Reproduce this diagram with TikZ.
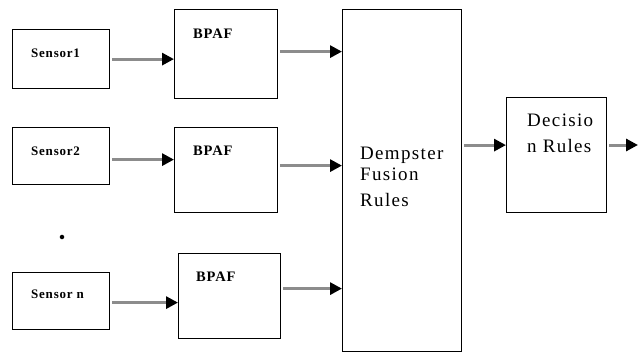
\documentclass[tikz,border=0pt]{standalone}
\usepackage{fontspec}
\setmainfont{Liberation Serif}
\usetikzlibrary{positioning,arrows.meta}

\begin{document}
\begin{tikzpicture}[x=1pt,y=-1pt,
		blk/.style={
			draw,
			line width=1.2pt,
			inner sep=0pt,
			anchor=north west
		},
		flow/.style={draw=gray!90, line width=3pt, shorten <=2pt,
			-{Triangle[length=12pt,width=12pt,black]}},
		tag/.style={anchor=base west, inner sep=0pt,
			font=\bfseries\fontsize{13}{15}\selectfont\addfontfeature{LetterSpace=6}},
		head/.style={tag, font=\bfseries\fontsize{14.5}{16}\selectfont\addfontfeature{LetterSpace=6}},
		big/.style={anchor=base west, inner sep=0pt,
			font=\fontsize{19}{22}\selectfont\addfontfeature{LetterSpace=7}}]
		\useasboundingbox (0,0) rectangle (638,353);
		
		\node[blk, minimum width=97pt, minimum height=59pt] (s1) at (12,29) {};
		\node[blk, minimum width=97pt, minimum height=57pt] (s2) at (12,127) {};
		\node[blk, minimum width=97pt, minimum height=57pt] (sn) at (12,272) {};
		\node[circle, fill, inner sep=1.6pt] (dots) at (62,237) {};
		
		\node[blk, minimum width=103pt, minimum height=89pt] (b1) at (174,9) {};
		\node[blk, minimum width=103pt, minimum height=85pt] (b2) at (174,127) {};
		\node[blk, minimum width=102pt, minimum height=85pt] (bn) at (178,253) {};
		
		\node[blk, minimum width=119pt, minimum height=342pt] (dfr) at (342,9) {};
		\node[blk, minimum width=100pt, minimum height=115pt] (dr) at (506,97) {};
		
		\node[tag] (t1) at (31,58) {Sensor1};
		\node[tag] (t2) at (31,156) {Sensor2};
		\node[tag] (tn) at (31,298) {Sensor n};
		\node[head] (p1) at (193,39) {BPAF};
		\node[head] (p2) at (193,155) {BPAF};
		\node[head] (pn) at (196,281.5) {BPAF};
		\node[big] (f1) at (360,159) {Dempster};
		\node[big] (f2) at (360,180) {Fusion};
		\node[big] (f3) at (360,206) {Rules};
		\node[big] (d1) at (527,127) {Decisio};
		\node[big] (d2) at (527,153) {n Rules};
		
		\draw[flow] (s1.east) -- (s1.east -| b1.west);
		\draw[flow] ([yshift=-3.5pt]s2.east) -- ([yshift=-3.5pt]s2.east -| b2.west);
		\draw[flow] ([yshift=-1.5pt]sn.east) -- ([yshift=-1.5pt]sn.east -| bn.west);
		
		\draw[flow] ([yshift=2.5pt]b1.east) -- ([yshift=2.5pt]b1.east -| dfr.west);
		\draw[flow] ([yshift=4.5pt]b2.east) -- ([yshift=4.5pt]b2.east -| dfr.west);
		\draw[flow] ([yshift=7.5pt]bn.east) -- ([yshift=7.5pt]bn.east -| dfr.west);
		
		\draw[flow] ([yshift=10pt]dr.west -| dfr.east) -- ([yshift=10pt]dr.west);
		\coordinate (out) at (638,145);
		\draw[flow] (dr.east |- out) -- (out);
	\end{tikzpicture}
\end{document}
